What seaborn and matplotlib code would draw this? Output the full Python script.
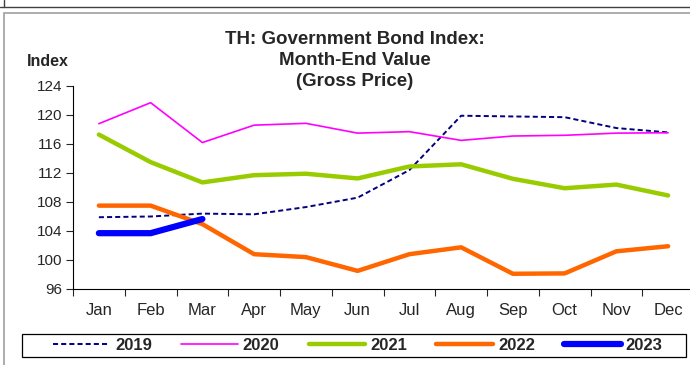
import numpy as np
import pandas as pd
import matplotlib
matplotlib.use("Agg")
import matplotlib.pyplot as plt
import seaborn as sns
from matplotlib.lines import Line2D
from matplotlib.patches import Rectangle

months = ['Jan', 'Feb', 'Mar', 'Apr', 'May', 'Jun', 'Jul', 'Aug', 'Sep', 'Oct', 'Nov', 'Dec']
y2019 = [105.9, 106.0, 106.4, 106.3, 107.3, 108.6, 112.4, 119.9, 119.8, 119.7, 118.2, 117.6]
y2020 = [118.8, 121.7, 116.2, 118.6, 118.85, 117.5, 117.7, 116.5, 117.1, 117.2, 117.5, 117.55]
y2021 = [117.3, 113.5, 110.7, 111.7, 111.9, 111.25, 112.9, 113.2, 111.2, 109.9, 110.4, 108.9]
y2022 = [107.5, 107.5, 104.95, 100.8, 100.4, 98.5, 100.8, 101.75, 98.1, 98.15, 101.2, 101.9]
y2023 = [103.7, 103.7, 105.65]

series = {'2019': y2019, '2020': y2020, '2021': y2021, '2022': y2022, '2023': y2023}
colors = {'2019': '#000080', '2020': '#FF00FF', '2021': '#99CC00', '2022': '#FF6600', '2023': '#0000FF'}
widths = {'2019': 1.4, '2020': 1.2, '2021': 3.2, '2022': 3.2, '2023': 4.5}
styles = {'2019': (0, (2.6, 1.6)), '2020': '-', '2021': '-', '2022': '-', '2023': '-'}

sns.set_style('white')
plt.rcParams['font.family'] = ['Liberation Sans', 'DejaVu Sans']

fig = plt.figure(figsize=(6.9, 3.65), dpi=100)
ax = fig.add_axes([73/690, 76/365, 621/690, 203/365])

for name, vals in series.items():
    df = pd.DataFrame({'pos': np.arange(len(vals)), 'value': vals})
    sns.lineplot(data=df, x='pos', y='value', ax=ax, color=colors[name],
                 linewidth=widths[name], linestyle=styles[name],
                 solid_capstyle='round', legend=False)

ax.set_xlim(-0.5, len(months) - 0.5)
ax.set_ylim(96, 124)
ax.set_yticks(np.arange(96, 125, 4))
ax.set_xticks(np.arange(len(months)))
ax.set_xticklabels(months)
ax.set_xticks(np.arange(len(months) + 1) - 0.5, minor=True)
ax.tick_params(axis='x', which='major', length=0, pad=10, labelsize=12)
ax.tick_params(axis='x', which='minor', length=5, width=0.8, direction='out', bottom=True)
ax.tick_params(axis='y', length=5, width=0.8, direction='out', left=True, labelsize=11, pad=3)
ax.set_xlabel('')
ax.set_ylabel('')
sns.despine(ax=ax)
for s in ['left', 'bottom']:
    ax.spines[s].set_linewidth(0.8)
    ax.spines[s].set_color('black')

fig.text(355/690, 1 - 31/365, 'TH: Government Bond Index:\nMonth-End Value\n(Gross Price)',
         ha='center', va='top', fontsize=13.5, fontweight='bold', linespacing=1.3)
fig.text(27/690, 1 - 62/365, 'Index', ha='left', va='center', fontsize=11.5, fontweight='bold')

# legend
handles = [Line2D([], [], color=colors[n], linewidth=widths[n], linestyle=styles[n],
                  solid_capstyle='round') for n in series]
fig.legend(handles, list(series.keys()), ncol=5, loc='center',
           bbox_to_anchor=(358/690, 1 - 345.5/365), frameon=False,
           handlelength=3.4, handletextpad=0.3, columnspacing=1.75,
           borderpad=0, prop={'weight': 'bold', 'size': 12})
fig.add_artist(Rectangle((22/690, 8/365), 664/690, 23/365, transform=fig.transFigure,
                         fill=False, edgecolor='black', linewidth=0.9))

# outer frames
fig.add_artist(Rectangle((4/690, -0.1), 1.0, 1 - 13/365 + 0.1, transform=fig.transFigure,
                         fill=False, edgecolor='#a0a0a0', linewidth=1.2))
fig.add_artist(Line2D([0, 1], [1 - 7/365, 1 - 7/365], transform=fig.transFigure,
                      color='#404040', linewidth=1))
fig.add_artist(Line2D([4/690, 4/690], [1, 1 - 7/365], transform=fig.transFigure,
                      color='#404040', linewidth=1))

fig.savefig('out.png', dpi=100)
